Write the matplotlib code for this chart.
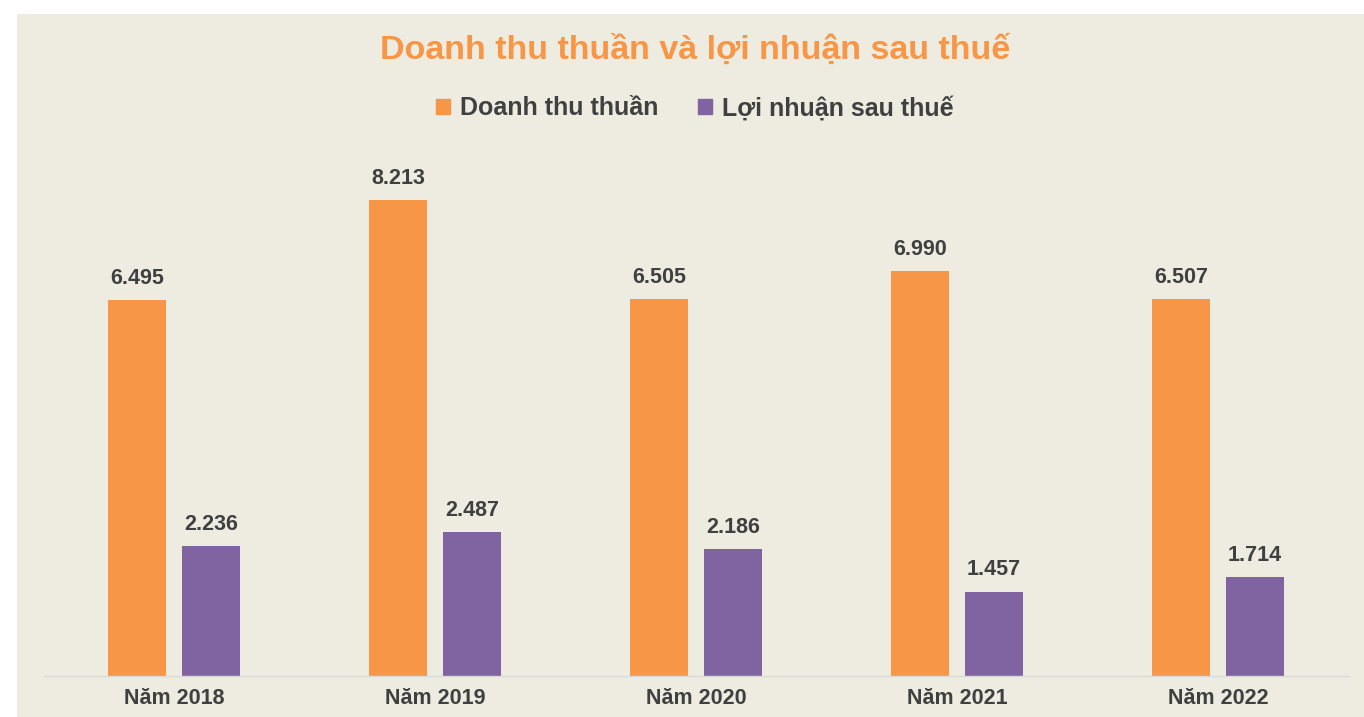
import numpy as np
import matplotlib.pyplot as plt
from matplotlib.patches import Patch, Rectangle

plt.rcParams['font.family'] = ['Liberation Sans', 'DejaVu Sans']

# Dữ liệu
nam = ['Năm 2018', 'Năm 2019', 'Năm 2020', 'Năm 2021', 'Năm 2022']
doanh_thu = [6.495, 8.213, 6.505, 6.990, 6.507]
loi_nhuan = [2.236, 2.487, 2.186, 1.457, 1.714]

cam = '#F79646'
tim = '#8064A2'
nen = '#EEEBE0'
chu = '#404040'

fig = plt.figure(figsize=(13.64, 7.17), dpi=100)
fig.patch.set_facecolor('white')
# nền be (lề trắng bên trái và trên)
fig.add_artist(Rectangle((17 / 1364, 0), 1 - 17 / 1364, 1 - 14 / 717,
                         transform=fig.transFigure, facecolor=nen,
                         edgecolor='none', zorder=-10))

ax = fig.add_axes([43.5 / 1364, 1 - 676 / 717, 1305 / 1364, 526 / 717])
ax.set_facecolor('none')

x = np.arange(len(nam))
w = 0.222
d = 0.1418
b1 = ax.bar(x - d, doanh_thu, w, color=cam, label='Doanh thu thuần')
b2 = ax.bar(x + d, loi_nhuan, w, color=tim, label='Lợi nhuận sau thuế')

for bars, vals in [(b1, doanh_thu), (b2, loi_nhuan)]:
    for r, v in zip(bars, vals):
        ax.annotate(f'{v:.3f}', (r.get_x() + r.get_width() / 2, v),
                    xytext=(0, 8), textcoords='offset points',
                    ha='center', va='bottom', fontsize=15.5,
                    fontweight='bold', color=chu)

ax.set_xlim(-0.5, 4.5)
ax.set_ylim(0, 526 / 57.95)
ax.set_xticks(x)
ax.set_xticklabels(nam, fontsize=15.5, fontweight='bold', color=chu)
ax.tick_params(axis='x', length=0, pad=9)
ax.set_yticks([])
for s in ['top', 'right', 'left']:
    ax.spines[s].set_visible(False)
ax.spines['bottom'].set_color('#D9D9D9')
ax.spines['bottom'].set_linewidth(1)

cx = 695 / 1364
fig.text(cx, 1 - 50 / 717, 'Doanh thu thuần và lợi nhuận sau thuế',
         ha='center', va='center', fontsize=24.5, fontweight='bold', color=cam)

handles = [Patch(color=cam), Patch(color=tim)]
fig.legend(handles, ['Doanh thu thuần', 'Lợi nhuận sau thuế'],
           loc='center', bbox_to_anchor=(cx, 1 - 108 / 717), ncol=2,
           frameon=False, handlelength=0.55, handleheight=0.55,
           handletextpad=0.4, columnspacing=1.6,
           prop={'size': 18, 'weight': 'bold'}, labelcolor=chu)

fig.savefig('out.png', dpi=100)
